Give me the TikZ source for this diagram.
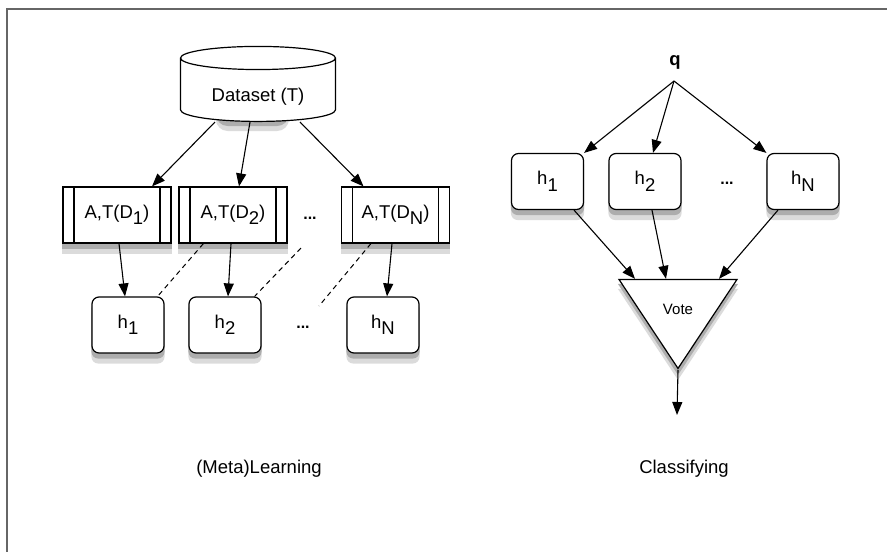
\documentclass[tikz,border=0pt]{standalone}
\usepackage{fontspec}
\setmainfont{Liberation Sans}
\usetikzlibrary{shapes.geometric,arrows.meta,backgrounds}
\newcommand{\lowsub}[1]{\raisebox{-6.5pt}{#1}}
\tikzset{
  hbox/.style={draw,line width=1.2pt,fill=white,rounded corners=7pt,
    minimum width=72pt,minimum height=56pt,inner sep=0pt},
  algbox/.style={draw,line width=1.2pt,fill=white,minimum width=108pt,
    minimum height=56pt,inner sep=0pt,
    path picture={
      \draw[line width=1.2pt] ([xshift=11pt]path picture bounding box.north west)
        -- ([xshift=11pt]path picture bounding box.south west);
      \draw[line width=1.2pt] ([xshift=-11pt]path picture bounding box.north east)
        -- ([xshift=-11pt]path picture bounding box.south east);}},
  link/.style={-{Triangle[length=13pt,width=10pt]},line width=1.1pt},
  tie/.style={line width=1pt,dash pattern=on 5pt off 4pt},
  gap/.style={font=\bfseries\fontsize{16}{16}\selectfont},
  shadowfar/.style={fill=black!14},
  shadownear/.style={fill=black!32}
}
\begin{document}
\begin{tikzpicture}[x=1pt,y=-1pt,font=\fontsize{18.5}{22}\selectfont]
  \useasboundingbox (0,0) rectangle (887,552);
  \draw[gray!80!black,line width=1.5pt] (7,552) -- (7,9) -- (887,9);

  % learning side
  \node[cylinder,shape border rotate=90,draw,line width=1.2pt,fill=white,aspect=0.25,
    minimum width=155pt,minimum height=75pt,inner sep=0pt,text height=22pt,text depth=0pt]
    (data) at (258,90) {Dataset (T)};
  \node[algbox] (a1) at (117,215) {A,T(D\lowsub{1})};
  \node[algbox] (a2) at (233,215) {A,T(D\lowsub{2})};
  \node[algbox] (aN) at (395.5,215) {A,T(D\lowsub{N})};
  \node[gap] (dots1) at (310,218) {...};
  \foreach \n/\x in {1/128, 2/225, N/383}
    \node[hbox] (l\n) at (\x,325) {h\lowsub{\n}};
  \node[gap] (dots2) at (303,327) {...};

  \draw[link] ([xshift=-43pt]data.south) -- ([xshift=35pt]a1.north);
  \draw[link] ([xshift=-8pt]data.south) -- ([xshift=6pt]a2.north);
  \draw[link] ([xshift=42pt]data.south) -- ([xshift=-32pt]aN.north);
  \draw[link] ([xshift=2pt]a1.south) -- ([xshift=-3pt]l1.north);
  \draw[link] ([xshift=-2pt]a2.south) -- ([xshift=3pt]l2.north);
  \draw[link] ([xshift=-3.5pt]aN.south) -- ([xshift=4pt]lN.north);

  \coordinate (tie2) at (301,248);
  \coordinate (tie3) at (319,306);
  \draw[tie] ([xshift=25pt]a2.south west) -- ([xshift=-7pt]l1.north east);
  \draw[tie] (tie2) -- ([xshift=-7pt]l2.north east);
  \draw[tie] ([xshift=30pt]aN.south west) -- (tie3);

  % classifying side
  \node[font=\bfseries\fontsize{18.5}{22}\selectfont] (q) at (675,62) {q};
  \coordinate (qfork) at (674,81);
  \foreach \n/\x in {1/547.5, 2/645, N/803}
    \node[hbox] (r\n) at (\x,181.5) {h\lowsub{\n}};
  \node[gap] (dots3) at (727,183) {...};
  \node[isosceles triangle,shape border rotate=270,isosceles triangle stretches,
    draw,line width=1.2pt,fill=white,minimum width=118pt,minimum height=89pt,
    inner sep=0pt,text height=18pt,text depth=0pt,anchor=apex,
    font=\fontsize{15}{18}\selectfont] (vote) at (678,370) {Vote};
  \coordinate (voteout) at (677,415);

  \draw[link] (qfork) -- (r1.north east);
  \draw[link] (qfork) -- ([xshift=8pt]r2.north);
  \draw[link] (qfork) -- (rN.north west);
  \draw[link] ([xshift=26.5pt]r1.south) -- ([xshift=-43pt]vote.north);
  \draw[link] ([xshift=7pt]r2.south) -- ([xshift=-12pt]vote.north);
  \draw[link] ([xshift=-25pt]rN.south) -- ([xshift=41pt]vote.north);
  \draw[link] (vote.apex) -- (voteout);

  \node (learn) at (259,469) {(Meta)Learning};
  \node (classify) at (684,469) {Classifying};

  % shadows under the boxes
  \begin{scope}[on background layer]
    \foreach \s/\d in {shadowfar/10, shadownear/5} {
      \foreach \b in {l1,l2,lN,r1,r2,rN}
        \fill[\s,rounded corners=7pt] ([yshift=-\d pt]\b.north west) rectangle ([yshift=-\d pt]\b.south east);
      \foreach \b in {a1,a2,aN}
        \fill[\s] ([yshift=-\d pt]\b.north west) rectangle ([yshift=-\d pt]\b.south east);
      \fill[\s,rounded corners=12pt] ([yshift=-\d pt]data.north west) rectangle ([yshift=-\d pt]data.south east);
      \fill[\s] ([yshift=-\d pt]vote.left corner) -- ([yshift=-\d pt]vote.right corner)
        -- ([yshift=-\d pt]vote.apex) -- cycle;
    }
  \end{scope}
\end{tikzpicture}
\end{document}
